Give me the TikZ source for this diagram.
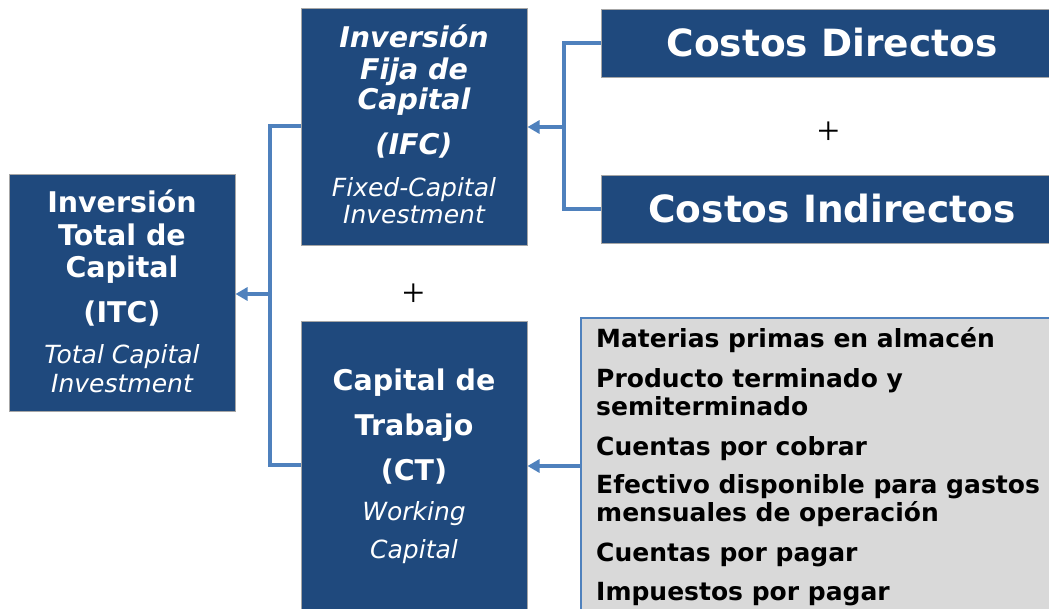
\documentclass[tikz,border=0pt]{standalone}
\usepackage{fontspec}
\setmainfont{DejaVu Sans}
\newfontfamily\plusfont{Liberation Serif}
\usetikzlibrary{arrows.meta}
\definecolor{navy}{HTML}{1F497D}
\definecolor{conn}{HTML}{4F81BD}
\definecolor{greyfill}{HTML}{D9D9D9}
\definecolor{edge}{HTML}{A6A6A6}
\tikzset{
  navybox/.style={draw=edge, line width=0.8pt, fill=navy},
  greybox/.style={draw=conn, line width=1.5pt, fill=greyfill},
  wline/.style={anchor=base, text=white, inner sep=0pt},
  bl/.style={wline, font=\fontsize{28.5}{30}\selectfont\bfseries},
  bil/.style={wline, font=\fontsize{28.5}{30}\selectfont\bfseries\itshape},
  il/.style={wline, font=\fontsize{25}{27}\selectfont\itshape},
  big/.style={wline, font=\fontsize{37.5}{40}\selectfont\bfseries},
  item/.style={anchor=base west, inner sep=0pt, text=black, font=\fontsize{25}{27}\selectfont\bfseries},
  plus/.style={inner sep=0pt, text=black, font=\plusfont\fontsize{40}{40}\selectfont},
  connector/.style={draw=conn, line width=3.2pt},
  arr/.style={connector, -{Triangle[length=12pt,width=13pt]}, shorten >=0.5pt}
}
\begin{document}
\begin{tikzpicture}[x=1pt,y=-1pt]
\useasboundingbox (0,0) rectangle (1049,609);
\clip (0,0) rectangle (1049,609);
% boxes
\draw[navybox] (9,174) rectangle (235,411);
\draw[navybox] (301,8) rectangle (527,245);
\draw[navybox] (301,321) rectangle (527,640);
\draw[navybox] (601,9) rectangle (1070,77);
\draw[navybox] (601,175) rectangle (1070,243);
\draw[greybox] (581,318) rectangle (1070,640);
% anchor coordinates
\coordinate (itcR) at (235,294);
\coordinate (ifcL) at (301,126);
\coordinate (ifcR) at (527,127);
\coordinate (ctL) at (301,465);
\coordinate (ctR) at (527,466);
\coordinate (cdL) at (601,43);
\coordinate (ciL) at (601,209);
\coordinate (grL) at (581,466);
\coordinate (jL) at (270,294);
\coordinate (jR) at (564,127);
% connectors
\draw[connector] (ifcL) -- (ifcL -| jL) -- (ctL -| jL) -- (ctL);
\draw[arr] (jL) -- (itcR);
\draw[connector] (cdL) -- (cdL -| jR) -- (ciL -| jR) -- (ciL);
\draw[arr] (jR) -- (ifcR);
\draw[arr] (grL) -- (ctR);
% ITC text
\node[bl] (t1) at (122,213) {Inversión};
\node[bl] (t2) at (122,246) {Total de};
\node[bl] (t3) at (122,278) {Capital};
\node[bl] (t4) at (122,323) {(ITC)};
\node[il] (t5) at (122,363) {Total Capital};
\node[il] (t6) at (122,392) {Investment};
% IFC text
\node[bil] (f1) at (414,48) {Inversión};
\node[bil] (f2) at (414,80) {Fija de};
\node[bil] (f3) at (414,110) {Capital};
\node[bil] (f4) at (414,155) {(IFC)};
\node[il] (f5) at (414,197) {Fixed-Capital};
\node[il] (f6) at (414,224) {Investment};
% CT text
\node[bl] (c1) at (414,390) {Capital de};
\node[bl] (c2) at (414,435) {Trabajo};
\node[bl] (c3) at (414,480) {(CT)};
\node[il] (c4) at (414,520) {Working};
\node[il] (c5) at (414,558) {Capital};
% costs
\node[big] (cd) at (832,57) {Costos Directos};
\node[big] (ci) at (832,223) {Costos Indirectos};
% plus
\node[plus] (p1) at (829,133) {+};
\node[plus] (p2) at (414,295) {+};
% list
\node[item] (l1) at (596,348) {Materias primas en almacén};
\node[item] (l2) at (596,387) {Producto terminado y};
\node[item] (l3) at (596,415) {semiterminado};
\node[item] (l4) at (596,455) {Cuentas por cobrar};
\node[item] (l5) at (596,493) {Efectivo disponible para gastos};
\node[item] (l6) at (596,521) {mensuales de operación};
\node[item] (l7) at (596,561) {Cuentas por pagar};
\node[item] (l8) at (596,600) {Impuestos por pagar};
\end{tikzpicture}
\end{document}
